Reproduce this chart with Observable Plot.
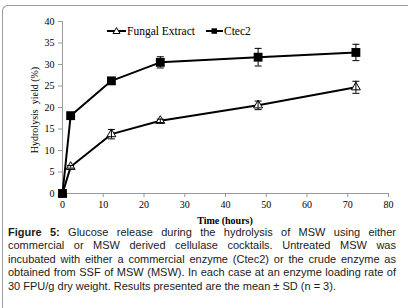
<!DOCTYPE html>
<html>
<head>
<meta charset="utf-8">
<script src="https://cdn.jsdelivr.net/npm/d3@7"></script>
<script src="https://cdn.jsdelivr.net/npm/@observablehq/plot@0.6"></script>
<style>
  html, body { margin: 0; padding: 0; background: #fff; }
  #wrap { position: relative; width: 408px; height: 308px; overflow: hidden; background: #fff; }
  #frame { position: absolute; left: 2px; top: 5px; width: 440px; height: 320px;
           border-top: 1px solid #9a9a9a; border-left: 1px solid #9a9a9a; border-top-left-radius: 6px; }
  #chart { position: absolute; left: 0; top: 0; }
  .serif { font-family: "Liberation Serif", "Times New Roman", serif; color: #000; }
  #xlabel { position: absolute; top: 216px; left: 62px; width: 326px; height: 10px; line-height: 10px; text-align: center; font-size: 10px; font-weight: bold; }
  #ylabel { position: absolute; left: 35px; top: 110px; transform: translate(-50%, -50%) rotate(-90deg); white-space: pre; font-size: 10px; line-height: 10px; }
  #legend { position: absolute; top: 23px; left: 107px; font-size: 11.5px; }
  .item { position: absolute; top: 0; white-space: nowrap; display: flex; align-items: center; height: 16px; }
  .item svg { display: block; }
  #caption { position: absolute; left: 8px; top: 226px; width: 388px; font-family: "Liberation Sans", Arial, sans-serif;
             font-size: 11px; line-height: 13.4px; color: #1a1a1a; }
  #caption div { white-space: nowrap; text-align: justify; text-align-last: justify; }
  #caption div.last { text-align: left; text-align-last: left; }
</style>
</head>
<body>
<div id="wrap">
  <div id="frame"></div>
  <div id="chart"></div>
  <div id="ylabel" class="serif"></div>
  <div id="xlabel" class="serif"></div>
  <div id="legend" class="serif"></div>
  <div id="caption"></div>
</div>
<script>
// ---- data ----
const time = [0, 2, 12, 24, 48, 72];
const fungal = [0, 6.2, 13.8, 16.9, 20.5, 24.7];
const fungalSD = [0, 0.3, 1.1, 0.4, 1.0, 1.4];
const ctec = [0, 18.1, 26.2, 30.5, 31.7, 32.8];
const ctecSD = [0, 0.5, 0.5, 1.3, 2.05, 1.9];
const seriesNames = ["Fungal Extract", "Ctec2"];
const xTicks = [0, 10, 20, 30, 40, 50, 60, 70, 80];
const yTicks = [0, 5, 10, 15, 20, 25, 30, 35, 40];
const xTitle = "Time (hours)";
const yTitle = "Hydrolysis  yield (%)";
const captionBold = "Figure 5:";
const captionLines = [
  " Glucose release during the hydrolysis of MSW using either",
  "commercial or MSW derived cellulase cocktails. Untreated MSW was",
  "incubated with either a commercial enzyme (Ctec2) or the crude enzyme as",
  "obtained from SSF of MSW (MSW). In each case at an enzyme loading rate of",
  "30 FPU/g dry weight. Results presented are the mean ± SD (n = 3)."
];

const fData = time.map((t, i) => ({t, v: fungal[i], sd: fungalSD[i]}));
const cData = time.map((t, i) => ({t, v: ctec[i], sd: ctecSD[i]}));

const capSymbol = { draw(ctx, size) { const w = 3.5; ctx.moveTo(-w, 0); ctx.lineTo(w, 0); } };

function errorMarks(data) {
  return [
    Plot.ruleX(data, {x: "t", y1: d => d.v - d.sd, y2: d => d.v + d.sd, stroke: "#000", strokeWidth: 1}),
    Plot.dot(data, {x: "t", y: d => d.v - d.sd, symbol: capSymbol, stroke: "#000", fill: "none", strokeWidth: 1}),
    Plot.dot(data, {x: "t", y: d => d.v + d.sd, symbol: capSymbol, stroke: "#000", fill: "none", strokeWidth: 1})
  ];
}

const chart = Plot.plot({
  width: 408, height: 215,
  marginLeft: 62, marginRight: 20, marginTop: 21, marginBottom: 22,
  style: { fontFamily: '"Liberation Serif", "Times New Roman", serif', fontSize: "10px", color: "#000", background: "transparent", overflow: "visible" },
  x: { domain: [0, 80] },
  y: { domain: [0, 40] },
  marks: [
    Plot.axisY({ ticks: yTicks, tickSize: 4, tickPadding: 4, label: null, stroke: "#999", fill: "#000" }),
    Plot.axisX({ ticks: xTicks, tickSize: 4, tickPadding: 3, label: null, stroke: "#999", fill: "#000" }),
    Plot.ruleX([0], { stroke: "#999" }),
    Plot.ruleY([0], { stroke: "#999" }),
    Plot.line(fData, { x: "t", y: "v", stroke: "#000", strokeWidth: 2 }),
    Plot.line(cData, { x: "t", y: "v", stroke: "#000", strokeWidth: 2 }),
    Plot.dot(fData, { x: "t", y: "v", symbol: "triangle", r: 3.3, fill: "#fff", stroke: "#000", strokeWidth: 1 }),
    ...errorMarks(fData),
    Plot.dot(cData, { x: "t", y: "v", symbol: "square", r: 5, fill: "#000", stroke: "none" }),
    ...errorMarks(cData)
  ]
});
document.getElementById("chart").appendChild(chart);

document.getElementById("xlabel").textContent = xTitle;
document.getElementById("ylabel").textContent = yTitle;

// legend
const legend = document.getElementById("legend");
const triIcon = '<svg width="19" height="10"><line x1="0" y1="5" x2="19" y2="5" stroke="#000" stroke-width="2"/><path d="M9.5,1.5 L13,7.5 L6,7.5 Z" fill="#fff" stroke="#000" stroke-width="1"/></svg>';
const sqIcon = '<svg width="17" height="10"><line x1="0" y1="5" x2="17" y2="5" stroke="#000" stroke-width="2"/><rect x="5.5" y="2.3" width="5.5" height="5.5" fill="#000"/></svg>';
const icons = [triIcon, sqIcon];
const lefts = [0, 99];
seriesNames.forEach((name, i) => {
  const d = document.createElement("div");
  d.className = "item";
  d.style.left = lefts[i] + "px";
  d.innerHTML = icons[i] + '<span style="margin-left:1px">' + name + '</span>';
  legend.appendChild(d);
});

const cap = document.getElementById("caption");
captionLines.forEach((line, i) => {
  const d = document.createElement("div");
  if (i === captionLines.length - 1) d.className = "last";
  if (i === 0) {
    const b = document.createElement("b");
    b.textContent = captionBold;
    d.appendChild(b);
  }
  d.appendChild(document.createTextNode(line));
  cap.appendChild(d);
});
</script>
</body>
</html>
